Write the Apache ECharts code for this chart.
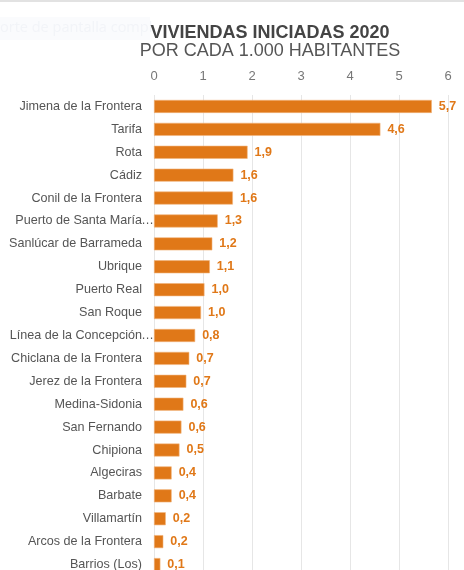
<!DOCTYPE html>
<html>
<head>
<meta charset="utf-8">
<script src="https://cdn.jsdelivr.net/npm/echarts@6/dist/echarts.min.js"></script>
<style>
  html, body { margin: 0; padding: 0; background: #fff; overflow: hidden; }
  /* el gráfico original sigue por debajo del borde de la captura */
  #chart { width: 464px; height: 600px; }
</style>
</head>
<body>
<div id="chart"></div>
<script>
// municipios (de arriba abajo) y viviendas iniciadas por 1.000 hab.
const municipios = [
    'Jimena de la Frontera', 'Tarifa', 'Rota', 'Cádiz', 'Conil de la Frontera',
    'Puerto de Santa María', 'Sanlúcar de Barrameda', 'Ubrique', 'Puerto Real',
    'San Roque', 'Línea de la Concepción', 'Chiclana de la Frontera',
    'Jerez de la Frontera', 'Medina-Sidonia', 'San Fernando', 'Chipiona',
    'Algeciras', 'Barbate', 'Villamartín', 'Arcos de la Frontera', 'Barrios (Los)'
];
const valores = [
    5.67, 4.62, 1.91, 1.62, 1.61,
    1.30, 1.19, 1.14, 1.03,
    0.96, 0.84, 0.72,
    0.66, 0.60, 0.56, 0.52,
    0.36, 0.36, 0.24, 0.19, 0.13
];
// nombres que salen cortados con puntos suspensivos
const cortados = ['Puerto de Santa María', 'Línea de la Concepción'];
const ticksX = [0, 6];

const chart = echarts.init(document.getElementById('chart'));
const FONT = '"Liberation Sans", Arial, sans-serif';

chart.setOption({
    animation: false,
    textStyle: { fontFamily: FONT },
    title: {
        text: 'VIVIENDAS INICIADAS 2020',
        subtext: 'POR CADA 1.000 HABITANTES',
        left: 265,
        textAlign: 'center',
        top: 19,
        itemGap: 0,
        textStyle: { fontFamily: FONT, fontSize: 18, fontWeight: 'bold', color: '#444' },
        subtextStyle: { fontFamily: FONT, fontSize: 18, color: '#555' }
    },
    graphic: [
        { type: 'rect', shape: { x: 0, y: 0, width: 464, height: 2 }, style: { fill: '#e2e2e2' } },
        { type: 'rect', shape: { x: 0, y: 17, width: 150, height: 23 }, style: { fill: '#fafbfd' } },
        {
            type: 'text', left: 0, top: 20,
            style: { text: 'orte de pantalla compl', fill: '#f2f4f8', font: '14.5px "Open Sans", sans-serif' }
        }
    ],
    grid: { left: 154, right: 16, top: 95, height: 481, containLabel: false },
    xAxis: {
        type: 'value',
        position: 'top',
        min: ticksX[0],
        max: ticksX[1],
        interval: 1,
        axisLine: { show: false },
        axisTick: { show: false },
        axisLabel: { color: '#777', fontSize: 13, margin: 12 },
        splitLine: { lineStyle: { color: '#e6e6e6', width: 1 } }
    },
    yAxis: {
        type: 'category',
        inverse: true,
        data: municipios,
        axisLine: { show: false },
        axisTick: { show: false },
        axisLabel: {
            color: '#555',
            fontSize: 12.6,
            margin: 1,
            formatter: name => cortados.includes(name) ? '{n|' + name + '}{e|…}' : '{n|' + name + '}{s|}',
            rich: {
                n: { color: '#555', fontSize: 12.6 },
                s: { width: 11 },
                e: { color: '#555', fontSize: 12.6, width: 11, align: 'left' }
            }
        }
    },
    series: [{
        type: 'bar',
        data: valores,
        barWidth: 13,
        itemStyle: { color: '#e07818', borderColor: '#f2b47a', borderWidth: 0.6 },
        label: {
            show: true,
            position: 'right',
            distance: 7,
            color: '#e07818',
            fontWeight: 'bold',
            fontSize: 12.5,
            formatter: p => p.value.toFixed(1).replace('.', ',')
        }
    }]
});
</script>
</body>
</html>
